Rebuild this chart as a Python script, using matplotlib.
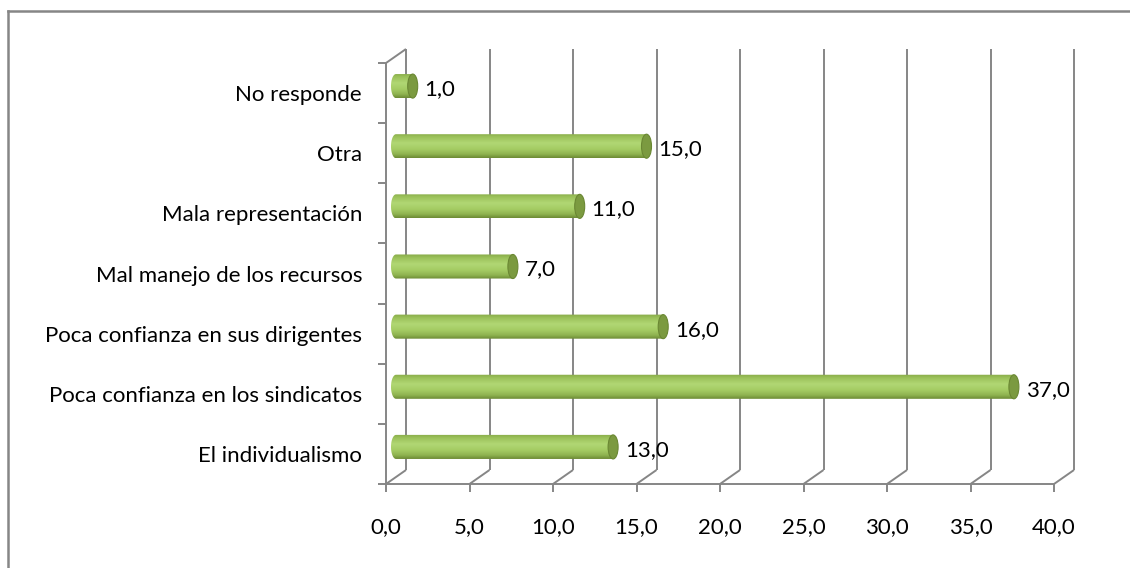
import numpy as np
import matplotlib
matplotlib.use("Agg")
import matplotlib.pyplot as plt
from matplotlib.patches import Ellipse, PathPatch
from matplotlib.path import Path
from matplotlib.lines import Line2D
from matplotlib.colors import LinearSegmentedColormap

# Data (bottom to top)
categories = [
    "El individualismo",
    "Poca confianza en los sindicatos",
    "Poca confianza en sus dirigentes",
    "Mal manejo de los recursos",
    "Mala representación",
    "Otra",
    "No responde",
]
values = [13.0, 37.0, 16.0, 7.0, 11.0, 15.0, 1.0]
x_ticks = [0, 5, 10, 15, 20, 25, 30, 35, 40]
x_tick_labels = ["0,0", "5,0", "10,0", "15,0", "20,0", "25,0", "30,0", "35,0", "40,0"]


def fmt(v):
    return f"{v:.1f}".replace(".", ",")


plt.rcParams["font.family"] = ["Lato", "DejaVu Sans"]
FS = 16
TXT = "#000000"
GRID = "#868686"
LW = 1.4

W, H = 1130, 568
fig = plt.figure(figsize=(W / 100, H / 100), dpi=100)
fig.patch.set_facecolor("white")

# Plot plane at mid depth of the pseudo-3D box (pixel layout)
PX_X0, PX_PER_X = 396.0, 16.7
PX_TOP, PX_BOT = 56.0, 477.0
XMIN, XMAX = -1.5, 41.5
n = len(categories)
YMIN, YMAX = -0.5, n - 0.5

ax = fig.add_axes([
    (PX_X0 + XMIN * PX_PER_X) / W,
    (H - PX_BOT) / H,
    (XMAX - XMIN) * PX_PER_X / W,
    (PX_BOT - PX_TOP) / H,
])
ax.set_axis_off()
px_per_y = (PX_BOT - PX_TOP) / n


def dxp(px):
    return px / PX_PER_X


def dyp(px):
    return px / px_per_y


DX, DY = dxp(10), dyp(7)
line_kw = dict(color=GRID, lw=LW, clip_on=False, solid_capstyle="butt", zorder=1)

# Back wall gridlines and floor diagonals
for t in x_ticks:
    ax.plot([t + DX, t + DX], [YMIN + DY, YMAX + DY], **line_kw)
    ax.plot([t - DX, t + DX], [YMIN - DY, YMIN + DY], **line_kw)
# Side wall top edge
ax.plot([-DX, DX], [YMAX - DY, YMAX + DY], **line_kw)

# Front category axis with ticks
ax.plot([-DX, -DX], [YMIN - DY, YMAX - DY], **line_kw)
for k in range(n + 1):
    yk = k - 0.5 - DY
    ax.plot([-DX - dxp(8), -DX], [yk, yk], **line_kw)

# Front value axis with ticks
ax.plot([-DX, x_ticks[-1] - DX], [YMIN - DY, YMIN - DY], **line_kw)
for t, lab in zip(x_ticks, x_tick_labels):
    ax.plot([t - DX, t - DX], [YMIN - DY, YMIN - DY - dyp(8)], **line_kw)
    ax.text(t - DX, YMIN - DY - dyp(43), lab, ha="center", va="center",
            fontsize=FS, color=TXT)

for i, cat in enumerate(categories):
    ax.text(-DX - dxp(24), i - DY - dyp(2), cat, ha="right", va="center",
            fontsize=FS, color=TXT)

# Cylinder bars
stops = [(0.0, "#87aa48"), (0.15, "#9cc25b"), (0.4, "#b1d774"),
         (0.65, "#a4cb63"), (0.85, "#8fb350"), (1.0, "#6d8b35")]
cmap = LinearSegmentedColormap.from_list("cyl", stops)
grad = cmap(np.linspace(0, 1, 64))[:, None, :3]

bh = 0.4
cw = dxp(5)
tt = np.linspace(0, np.pi, 40)
for i, v in enumerate(values):
    y = i
    verts = [(-cw * np.sin(a), y + bh / 2 * np.cos(a)) for a in tt]
    verts += [(v, y - bh / 2), (v, y + bh / 2), (0, y + bh / 2)]
    body = PathPatch(Path(verts, closed=True), facecolor="none",
                     edgecolor="none", zorder=3)
    ax.add_patch(body)
    im = ax.imshow(grad, extent=(-cw, v, y - bh / 2, y + bh / 2),
                   aspect="auto", interpolation="bilinear", zorder=3)
    im.set_clip_path(body)
    ax.add_patch(Ellipse((v, y), 2 * cw, bh, facecolor="#7b9a40",
                         edgecolor="#6a8733", lw=0.8, zorder=4))
    ax.text(v + dxp(12), y - dyp(3), fmt(v), ha="left", va="center",
            fontsize=FS, color=TXT)

ax.set_xlim(XMIN, XMAX)
ax.set_ylim(YMIN, YMAX)

# Chart area frame
fig.add_artist(Line2D([8 / W, 8 / W], [0, (H - 11) / H], transform=fig.transFigure,
                      color=GRID, lw=1.8))
fig.add_artist(Line2D([8 / W, 1], [(H - 11) / H, (H - 11) / H],
                      transform=fig.transFigure, color=GRID, lw=1.8))

fig.savefig("out.png", dpi=100)
